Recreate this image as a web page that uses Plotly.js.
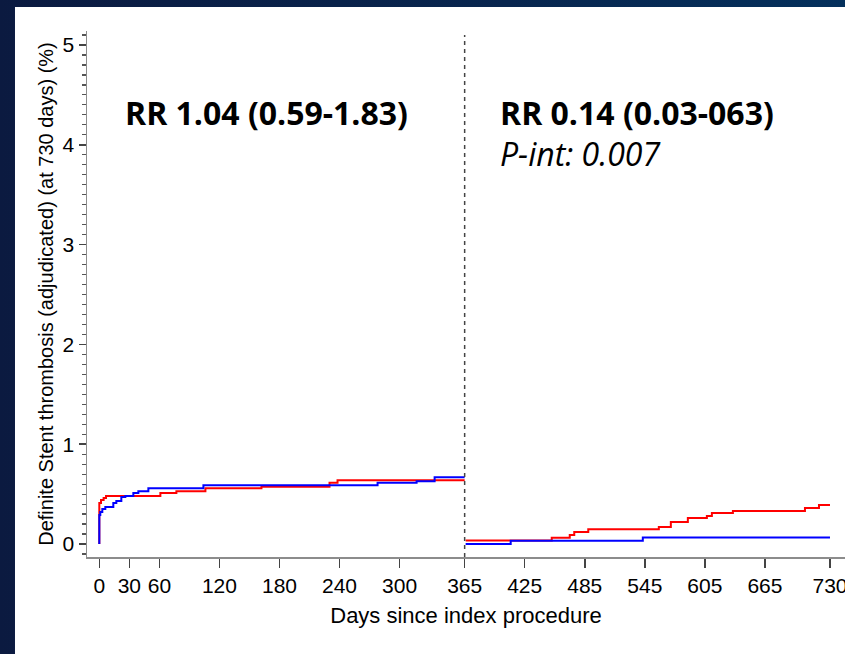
<!DOCTYPE html>
<html>
<head>
<meta charset="utf-8">
<script src="https://cdn.plot.ly/plotly-3.0.1.min.js"></script>
<style>
  html, body { margin: 0; padding: 0; width: 845px; height: 654px; overflow: hidden;
    background: linear-gradient(90deg, #0b1a40 0%, #08264f 60%, #04305c 100%); }
  #chart { width: 845px; height: 654px; }
</style>
</head>
<body>
<div id="chart"></div>
<script>
// ---- Data ----
// First year (0-365 days)
const redDaysY1 = [0, 0, 1.7, 4.3, 6.7, 61, 77, 106, 162, 230, 238, 365];
const redValsY1 = [0, 0.41, 0.44, 0.46, 0.48, 0.51, 0.53, 0.56, 0.575, 0.615, 0.64, 0.64];
const blueDaysY1 = [0, 0, 1, 3, 6, 14, 17, 22, 26, 34, 39, 49, 104, 278, 317, 335, 365];
const blueValsY1 = [0, 0.29, 0.32, 0.35, 0.37, 0.41, 0.43, 0.47, 0.48, 0.51, 0.53, 0.56, 0.59, 0.615, 0.63, 0.67, 0.67];
// Second year (landmark from 365 days)
const redDaysY2 = [366, 452, 470, 474.5, 488.5, 559, 571, 588, 607, 612, 633, 705, 719, 730];
const redValsY2 = [0.035, 0.063, 0.09, 0.12, 0.147, 0.17, 0.22, 0.26, 0.28, 0.31, 0.33, 0.36, 0.39, 0.39];
const blueDaysY2 = [366, 411, 543, 730];
const blueValsY2 = [0, 0.033, 0.065, 0.065];

const xTickVals = [0, 30, 60, 120, 180, 240, 300, 365, 425, 485, 545, 605, 665, 730];
const xTickText = ["0", "30", "60", "120", "180", "240", "300", "365", "425", "485", "545", "605", "665", "730"];
const yTickVals = [0, 1, 2, 3, 4, 5];
const landmarkDay = 365;

const annText1 = "RR 1.04 (0.59-1.83)";
const annText2 = "RR 0.14 (0.03-063)";
const annText3 = "P-int: 0.007";

const RED = "#ff0000", BLUE = "#0000ff";
const tickFont = { family: "Liberation Sans, Arial, sans-serif", size: 21, color: "#000" };
const annFont = { family: "Open Sans, sans-serif", size: 32, color: "#000" };

function step(x, y, color) {
  return { x: x, y: y, type: "scatter", mode: "lines",
    line: { shape: "hv", color: color, width: 2 }, hoverinfo: "skip", showlegend: false };
}

const traces = [
  step(redDaysY1, redValsY1, RED),
  step(blueDaysY1, blueValsY1, BLUE),
  step(redDaysY2, redValsY2, RED),
  step(blueDaysY2, blueValsY2, BLUE)
];

const layout = {
  width: 845, height: 654,
  margin: { l: 87, r: 0, t: 31, b: 97, pad: 0 },
  paper_bgcolor: "rgba(0,0,0,0)",
  plot_bgcolor: "#ffffff",
  showlegend: false,
  xaxis: {
    range: [-12.3, 745], showgrid: false, zeroline: false,
    showline: true, linecolor: "#8c8c8c", linewidth: 1.5,
    ticks: "outside", ticklen: 9, tickwidth: 1.5, tickcolor: "#444",
    tickmode: "array", tickvals: xTickVals, ticktext: xTickText,
    tickfont: tickFont, ticklabeloverflow: "allow",
    title: { text: "Days since index procedure", standoff: 12,
      font: { family: "Liberation Sans, Arial, sans-serif", size: 22, color: "#000" } },
    automargin: false, fixedrange: true
  },
  yaxis: {
    range: [-0.13, 5.14], showgrid: false, zeroline: false,
    showline: true, linecolor: "#8c8c8c", linewidth: 1.5,
    ticks: "outside", ticklen: 7, tickwidth: 1.5, tickcolor: "#444",
    tickmode: "array", tickvals: yTickVals,
    minor: { dtick: 0.1, tick0: 0, ticks: "outside", ticklen: 4, tickwidth: 1.2, tickcolor: "#555", showgrid: false },
    tickfont: tickFont,
    title: { text: "Definite Stent thrombosis (adjudicated) (at 730 days) (%)", standoff: 3,
      font: { family: "Liberation Sans, Arial, sans-serif", size: 20, color: "#000" } },
    automargin: false, fixedrange: true
  },
  shapes: [
    { type: "rect", xref: "paper", yref: "paper", x0: -0.095, x1: 1.02, y0: -0.2, y1: 1.0456,
      fillcolor: "#ffffff", line: { width: 0 }, layer: "below" },
    { type: "line", xref: "x", yref: "y", x0: landmarkDay, x1: landmarkDay, y0: -0.13, y1: 5.1,
      line: { color: "#444", width: 1.5, dash: "4px,4px" } }
  ],
  annotations: [
    { text: "<b>" + annText1 + "</b>", xref: "paper", yref: "paper", x: 0.0475, y: 0.846,
      xanchor: "left", yanchor: "middle", showarrow: false, font: annFont },
    { text: "<b>" + annText2 + "</b>", xref: "paper", yref: "paper", x: 0.542, y: 0.846,
      xanchor: "left", yanchor: "middle", showarrow: false, font: annFont },
    { text: "<i>" + annText3 + "</i>", xref: "paper", yref: "paper", x: 0.542, y: 0.768,
      xanchor: "left", yanchor: "middle", showarrow: false, font: annFont }
  ]
};

Plotly.newPlot("chart", traces, layout, { staticPlot: true, displayModeBar: false });
</script>
</body>
</html>
